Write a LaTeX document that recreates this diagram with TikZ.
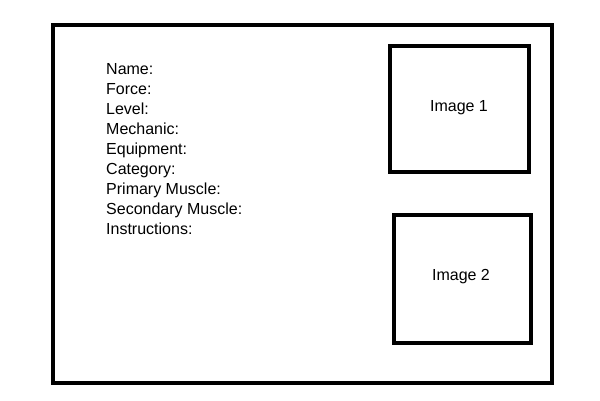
\documentclass[tikz,border=0pt]{standalone}
\usepackage{fontspec}
\setmainfont{Liberation Sans}
\begin{document}
\begin{tikzpicture}[x=1pt,y=-1pt,
  frame/.style={draw=black,line width=4pt},
  label/.style={font=\fontsize{16}{19}\selectfont},
  field/.style={label,anchor=base west,inner sep=0pt}]
  \useasboundingbox (0,0) rectangle (600,400);
  % outer card
  \draw[frame] (53,24.5) rectangle (552,383);
  % image placeholders
  \draw[frame] (389.5,45.5) rectangle (529,171.5);
  \node[label] (img1) at (459,108) {Image 1};
  \draw[frame] (393.5,214.5) rectangle (530.5,342.5);
  \node[label] (img2) at (461,277) {Image 2};
  % exercise fields
  \foreach \t [count=\i from 0] in {Name:,Force:,Level:,Mechanic:,Equipment:,Category:,Primary Muscle:,Secondary Muscle:,Instructions:}
    \node[field] (f\i) at (106,{74+20*\i}) {\t};
\end{tikzpicture}
\end{document}
